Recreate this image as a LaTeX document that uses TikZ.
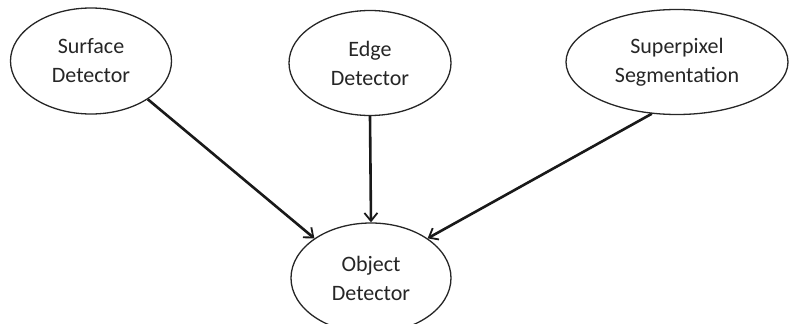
\documentclass[tikz,border=0pt]{standalone}
\usepackage{fontspec}
\setmainfont{Carlito}
\usetikzlibrary{shapes.geometric,arrows.meta}
\tikzset{
  blob/.style={ellipse, draw=black!85, line width=1.3pt, fill=white, inner sep=0pt,
    align=center, font=\fontsize{22}{29}\selectfont, text=black!85},
  link/.style={draw=black!90, line width=2.6pt, -{Straight Barb[length=8pt,width=13pt,line width=1.8pt]}}
}
\begin{document}
\begin{tikzpicture}[x=1pt,y=1pt]
\useasboundingbox (0,0) rectangle (790,-324);
\node[blob, minimum width=161pt, minimum height=106pt] (s) at (91,-61) {Surface\\Detector};
\node[blob, minimum width=162pt, minimum height=105pt] (e) at (370,-63) {Edge\\Detector};
\node[blob, minimum width=222pt, minimum height=105pt] (p) at (677,-62) {Superpixel\\Segmentation};
\node[blob, minimum width=160pt, minimum height=110pt] (o) at (371,-278) {Object\\Detector};
\draw[link] (s.-34) -- (o.145);
\draw[link] (e.south) -- (o.north);
\draw[link] (p.-116) -- (o.35);
\end{tikzpicture}
\end{document}
